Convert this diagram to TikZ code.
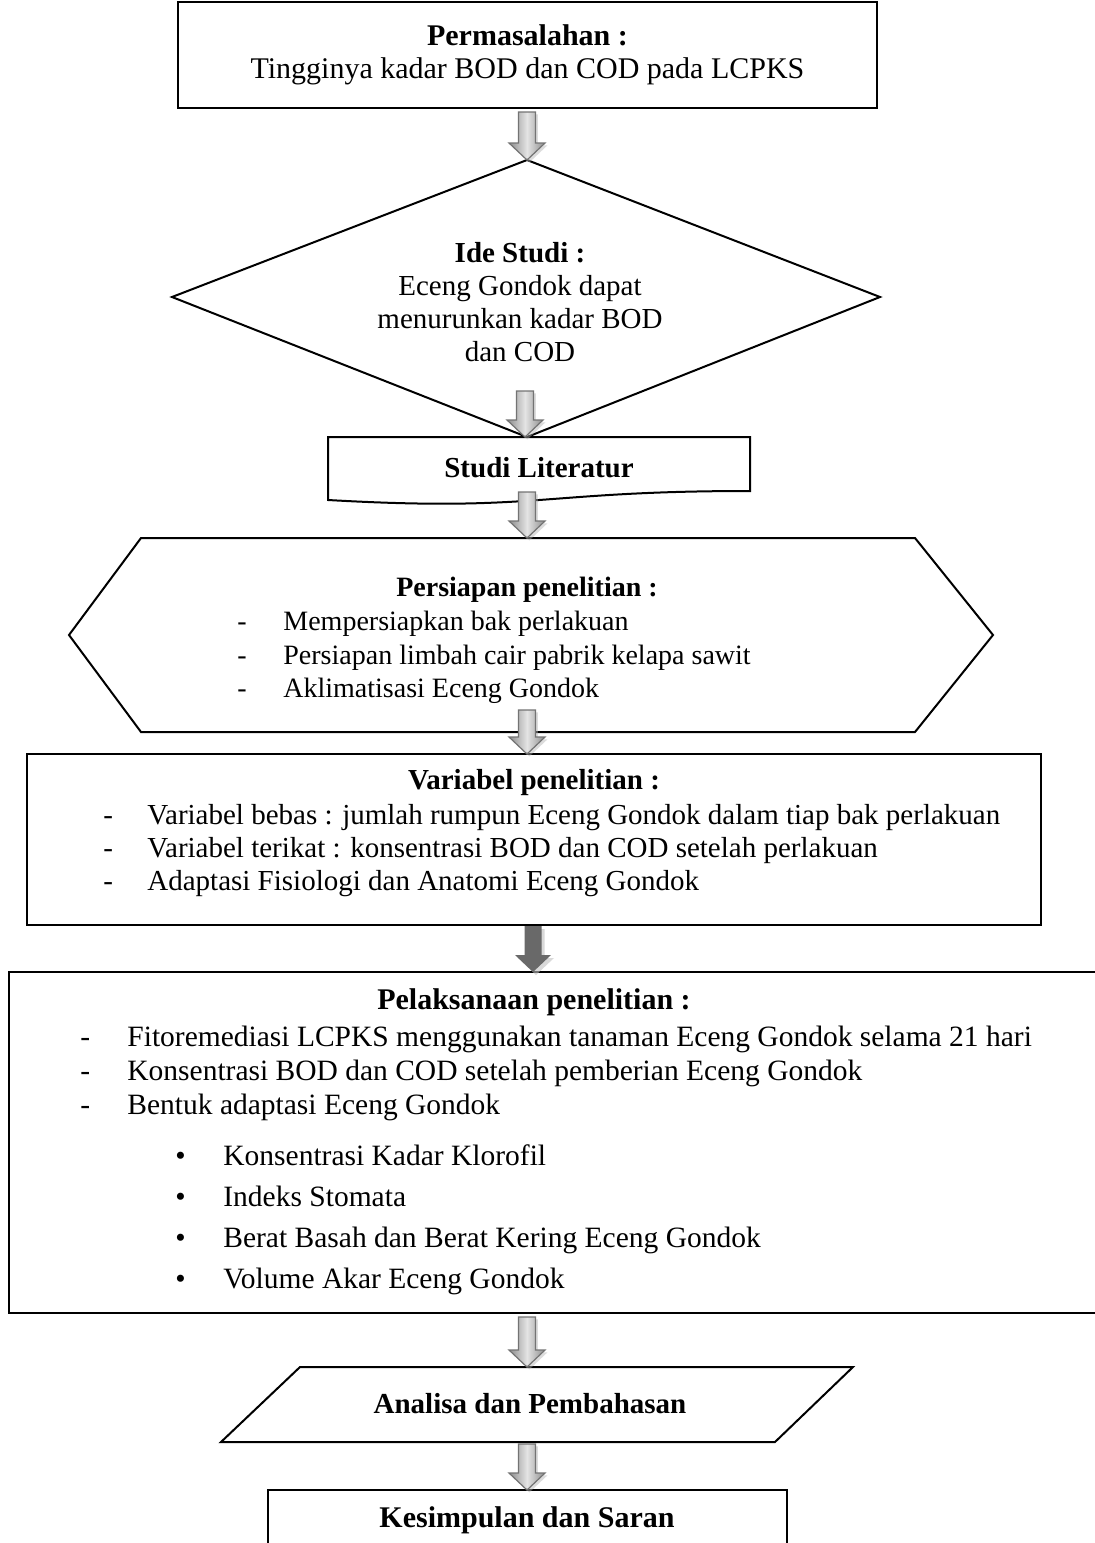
\documentclass[tikz,border=0pt]{standalone}
\usepackage{fontspec}
\setmainfont{Liberation Serif}
\usetikzlibrary{calc,shadows}
\definecolor{arredge}{RGB}{115,115,115}
\definecolor{arrside}{RGB}{140,140,140}
\definecolor{arrmid}{RGB}{228,228,228}
\definecolor{darkarr}{RGB}{105,105,105}
\newcommand\blkarrow[3]{%
  \path[#1] (#2) ++(-8.5,-#3) -- ++(17,0) -- ++(0,#3-17) -- ++(9.5,0) -- (#2) -- ++(-18,-17) -- ++(9.5,0) -- cycle;}
\newcommand\fs[1]{\fontsize{#1}{16.5}\selectfont}
\begin{document}
\begin{tikzpicture}[x=0.5pt,y=-0.5pt,
  font=\fs{14.5},
  outline/.style={draw=black, line width=1pt},
  title/.style={inner sep=0, font=\fs{14.5}\bfseries},
  item/.style={anchor=base west, inner sep=0},
  lightarr/.style={draw=arredge, line width=0.6pt, left color=arrside, right color=arrside, middle color=arrmid,
     drop shadow={shadow xshift=1.2pt, shadow yshift=-1.2pt, fill=gray!60, opacity=0.45}},
  darkarrow/.style={fill=darkarr,
     drop shadow={shadow xshift=1.5pt, shadow yshift=-1.5pt, fill=gray!50, opacity=0.6}}]
\useasboundingbox (0,0) rectangle (1094,1543);

% Permasalahan
\node[outline, align=center, minimum width=349.5pt, minimum height=53pt, inner sep=0, font=\fs{15}] (perm) at (527.5,55)
  {\textbf{Permasalahan :}\\Tingginya kadar BOD dan COD pada LCPKS};

% Ide Studi (diamond)
\coordinate (dt) at (527,160);
\coordinate (dr) at (880,297);
\coordinate (db) at (527,437);
\coordinate (dl) at (172,297);
\draw[outline] (dt) -- (dr) -- (db) -- (dl) -- cycle;
\node[align=center, inner sep=0, font=\fs{14.5}] (ide) at (520,302)
  {\textbf{Ide Studi :}\\Eceng Gondok dapat\\menurunkan kadar BOD\\dan COD};

% Studi Literatur (document shape)
\draw[outline] (328,437) -- (750,437) -- (750,491) .. controls (539,491) and (539,512) .. (328,500) -- cycle;
\coordinate (slt) at (525,437);
\node[title] (sl) at (539,468) {Studi Literatur};

% Persiapan (hexagon)
\draw[outline] (141,538) -- (915,538) -- (993,635) -- (915,732) -- (141,732) -- (69,635) -- cycle;
\coordinate (hxt) at (527,538);
\node[title, font=\fs{14}\bfseries] (ps) at (527,590) {Persiapan penelitian :};
\begin{scope}[every node/.append style={font=\fs{14}}]
\node[item] (ps1d) at (237,630) {-};
\node[item] (ps1) at (283,630) {Mempersiapkan bak perlakuan};
\node[item] (ps2d) at (237,664) {-};
\node[item] (ps2) at (283,664) {Persiapan limbah cair pabrik kelapa sawit};
\node[item] (ps3d) at (237,697) {-};
\node[item] (ps3) at (283,697) {Aklimatisasi Eceng Gondok};
\end{scope}

% Variabel
\node[outline, minimum width=507pt, minimum height=85.5pt, inner sep=0] (var) at (534,839.5) {};
\coordinate (vt) at (527,754);
\node[title] (vart) at (534,783) {Variabel penelitian :};
\node[item] (v1d) at (103,824.5) {-};
\node[item] (v1) at (147,824.5) {Variabel bebas : jumlah rumpun Eceng Gondok dalam tiap bak perlakuan};
\node[item] (v2d) at (103,857.5) {-};
\node[item] (v2) at (147,857.5) {Variabel terikat : konsentrasi BOD dan COD setelah perlakuan};
\node[item] (v3d) at (103,890.5) {-};
\node[item] (v3) at (147,890.5) {Adaptasi Fisiologi dan Anatomi Eceng Gondok};

% Pelaksanaan
\draw[outline] (1110,972) -- (9,972) -- (9,1313) -- (1110,1313);
\coordinate (plt) at (533,972);
\node[title, font=\fs{15}\bfseries] (pl) at (534,1002) {Pelaksanaan penelitian :};
\begin{scope}[every node/.append style={font=\fs{14.75}}]
\node[item] (p1d) at (80,1046) {-};
\node[item] (p1) at (127,1046) {Fitoremediasi LCPKS menggunakan tanaman Eceng Gondok selama 21 hari};
\node[item] (p2d) at (80,1080) {-};
\node[item] (p2) at (127,1080) {Konsentrasi BOD dan COD setelah pemberian Eceng Gondok};
\node[item] (p3d) at (80,1114) {-};
\node[item] (p3) at (127,1114) {Bentuk adaptasi Eceng Gondok};
\node[item] (b1d) at (175,1165) {\textbullet};
\node[item] (b1) at (223,1165) {Konsentrasi Kadar Klorofil};
\node[item] (b2d) at (175,1206) {\textbullet};
\node[item] (b2) at (223,1206) {Indeks Stomata};
\node[item] (b3d) at (175,1247) {\textbullet};
\node[item] (b3) at (223,1247) {Berat Basah dan Berat Kering Eceng Gondok};
\node[item] (b4d) at (175,1288) {\textbullet};
\node[item] (b4) at (223,1288) {Volume Akar Eceng Gondok};
\end{scope}

% Analisa (parallelogram)
\draw[outline] (300,1367) -- (853,1367) -- (775,1442) -- (221,1442) -- cycle;
\coordinate (ant) at (527,1367);
\node[title] (an) at (530,1404) {Analisa dan Pembahasan};

% Kesimpulan
\draw[outline] (268,1560) -- (268,1490) -- (787,1490) -- (787,1560);
\coordinate (kst) at (527,1490);
\node[title, font=\fs{15}\bfseries] (ks) at (527,1520) {Kesimpulan dan Saran};

% arrows
\blkarrow{lightarr}{dt}{48}
\blkarrow{lightarr}{slt}{46}
\blkarrow{lightarr}{hxt}{46}
\blkarrow{lightarr}{vt}{44}
\blkarrow{darkarrow}{plt}{46}
\blkarrow{lightarr}{ant}{50}
\blkarrow{lightarr}{kst}{46}
\end{tikzpicture}
\end{document}
